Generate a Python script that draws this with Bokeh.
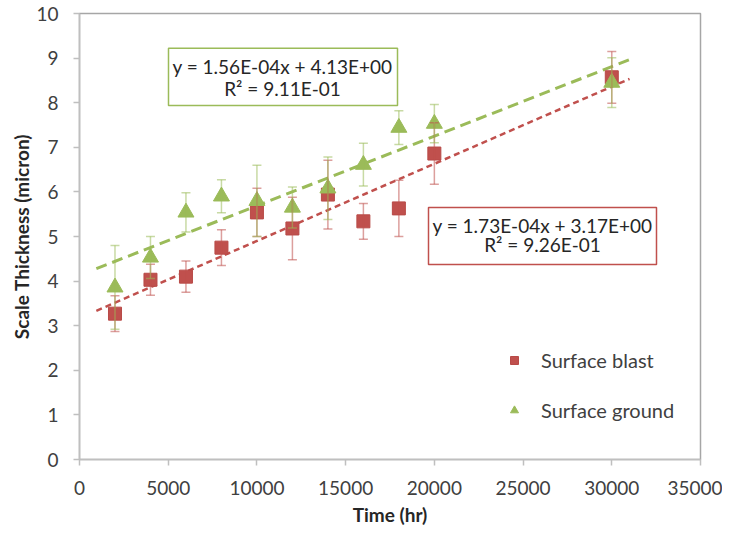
from bokeh.plotting import figure
from bokeh.models import (ColumnDataSource, Whisker, TeeHead, BoxAnnotation, Label,
                          Legend, LegendItem, FixedTicker)
from bokeh.embed import file_html
from bokeh.resources import INLINE

# ---- data ----
time_hr = [2000, 4000, 6000, 8000, 10000, 12000, 14000, 16000, 18000, 20000, 30000]
blast = [3.27, 4.03, 4.10, 4.75, 5.54, 5.18, 5.94, 5.34, 5.63, 6.86, 8.57]
blast_err = [0.40, 0.35, 0.35, 0.40, 0.54, 0.70, 0.77, 0.40, 0.63, 0.69, 0.58]
ground = [3.86, 4.53, 5.54, 5.90, 5.80, 5.65, 6.08, 6.61, 7.44, 7.53, 8.45]
ground_err = [0.94, 0.47, 0.44, 0.37, 0.80, 0.46, 0.70, 0.48, 0.38, 0.43, 0.56]

blast_slope, blast_icpt = 1.73e-4, 3.17
ground_slope, ground_icpt = 1.56e-4, 4.13
trend_x = [950, 31000]

blast_eq = ["y = 1.73E-04x + 3.17E+00", "R\u00b2 = 9.26E-01"]
ground_eq = ["y = 1.56E-04x + 4.13E+00", "R\u00b2 = 9.11E-01"]

x_ticks = [0, 5000, 10000, 15000, 20000, 25000, 30000, 35000]
y_ticks = list(range(0, 11))

RED = "#C0504D"
GREEN = "#9BBB59"
FONT = "Lato"

p = figure(frame_width=621, frame_height=446, min_border_left=79, min_border_top=13,
           min_border_right=22, min_border_bottom=10,
           x_range=(0, 35000), y_range=(0, 10),
           output_backend="svg", toolbar_location=None)
p.grid.visible = False
p.outline_line_color = "#A6A6A6"
p.outline_line_width = 1.5

for ax in (p.xaxis[0], p.yaxis[0]):
    ax.axis_line_color = "#BFBFBF"
    ax.axis_line_width = 1.5
    ax.major_tick_line_color = "#BFBFBF"
    ax.major_tick_line_width = 1.5
    ax.major_tick_in = 0
    ax.major_tick_out = 6
    ax.minor_tick_line_color = None
    ax.major_label_text_font = FONT
    ax.major_label_text_font_size = "19px"
    ax.major_label_text_color = "#404040"
    ax.axis_label_text_font = FONT
    ax.axis_label_text_font_size = "19px"
    ax.axis_label_text_font_style = "bold"
    ax.axis_label_text_color = "#262626"

p.xaxis.ticker = FixedTicker(ticks=x_ticks)
p.yaxis.ticker = FixedTicker(ticks=y_ticks)
p.xaxis.axis_label = "Time (hr)"
p.yaxis.axis_label = "Scale Thickness (micron)"
p.xaxis.major_label_standoff = 15
p.xaxis.axis_label_standoff = 5
p.yaxis.major_label_standoff = 15
p.yaxis.axis_label_standoff = 0

src = ColumnDataSource(dict(
    t=time_hr,
    b=blast, b_lo=[v - e for v, e in zip(blast, blast_err)], b_hi=[v + e for v, e in zip(blast, blast_err)],
    g=ground, g_lo=[v - e for v, e in zip(ground, ground_err)], g_hi=[v + e for v, e in zip(ground, ground_err)],
))

# trend lines
p.line(trend_x, [blast_slope * x + blast_icpt for x in trend_x], line_color=RED,
       line_width=2.5, line_dash="6 4")
p.line(trend_x, [ground_slope * x + ground_icpt for x in trend_x], line_color=GREEN,
       line_width=3, line_dash="11 6")

# error bars
def make_whisker(lo, hi, col):
    return Whisker(source=src, base="t", lower=lo, upper=hi, line_color=col,
                   line_alpha=0.55, line_width=1.5,
                   upper_head=TeeHead(size=9, line_color=col, line_alpha=0.55, line_width=1.5),
                   lower_head=TeeHead(size=9, line_color=col, line_alpha=0.55, line_width=1.5),
                   level="glyph")

p.add_layout(make_whisker("b_lo", "b_hi", RED))
p.add_layout(make_whisker("g_lo", "g_hi", GREEN))

r_b = p.scatter("t", "b", source=src, marker="square", size=13, fill_color=RED,
                line_color="#B84A47", line_width=1)
r_g = p.scatter("t", "g", source=src, marker="triangle", size=16, fill_color=GREEN,
                line_color=GREEN, line_width=1)

# equation boxes
p.add_layout(BoxAnnotation(left=5016, right=17923, bottom=7.94, top=9.22,
                           fill_color="white", fill_alpha=1.0,
                           line_color=GREEN, line_width=1.5, line_alpha=1.0))
p.add_layout(BoxAnnotation(left=19670, right=32520, bottom=4.37, top=5.65,
                           fill_color="white", fill_alpha=1.0,
                           line_color=RED, line_width=1.5, line_alpha=1.0))
for txt, yy in zip(ground_eq, [8.81, 8.32]):
    p.add_layout(Label(x=11441, y=yy, text=txt, text_align="center", text_baseline="middle",
                       text_font=FONT, text_font_size="19px", text_color="#262626"))
for txt, yy in zip(blast_eq, [5.25, 4.82]):
    p.add_layout(Label(x=26095, y=yy, text=txt, text_align="center", text_baseline="middle",
                       text_font=FONT, text_font_size="19px", text_color="#262626"))

legend = Legend(items=[LegendItem(label="Surface blast", renderers=[r_b]),
                       LegendItem(label="Surface ground", renderers=[r_g])],
                location=(425, 37), border_line_color=None, background_fill_alpha=0,
                label_text_font=FONT, label_text_font_size="20px", label_text_color="#404040",
                glyph_width=20, glyph_height=22, label_height=22, spacing=26,
                label_standoff=17, padding=5, margin=0)
p.add_layout(legend, "center")

open("out.html", "w").write(file_html(p, INLINE))
